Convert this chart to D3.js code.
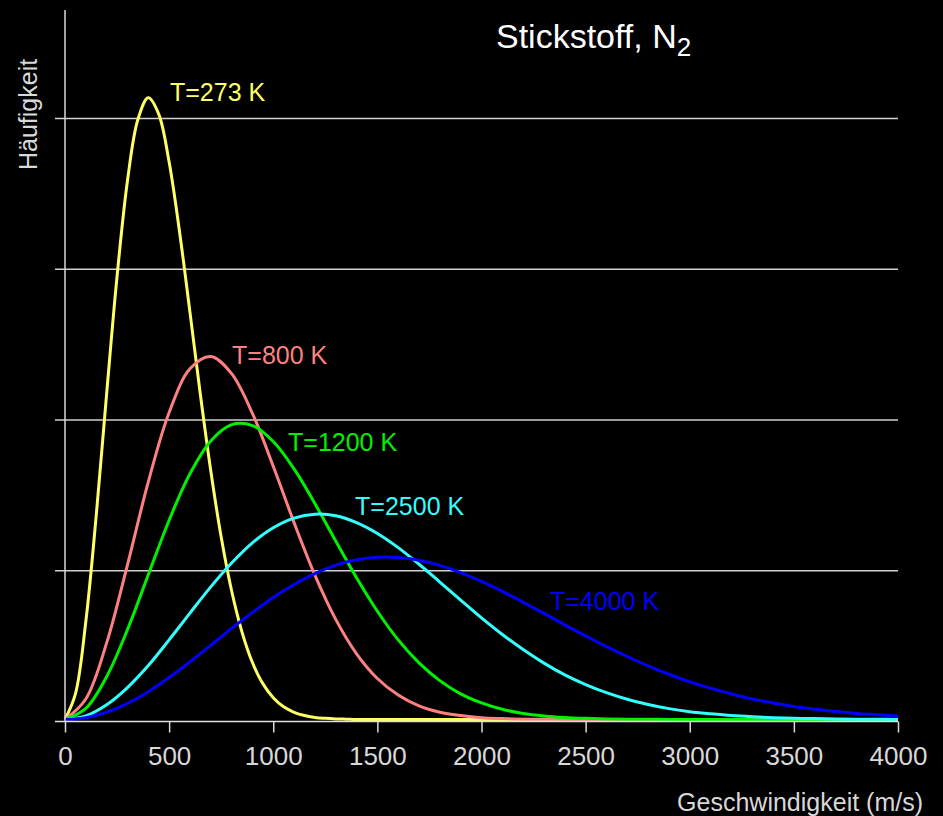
<!DOCTYPE html>
<html>
<head>
<meta charset="utf-8">
<script src="https://cdn.jsdelivr.net/npm/d3@7"></script>
<style>
  html, body { margin: 0; padding: 0; background: #000; }
  svg { display: block; }
</style>
</head>
<body>
<div id="chart"></div>
<script>

var speeds273 = [0, 50, 100, 150, 200, 250, 300, 350, 400, 450, 500, 550, 600, 650, 700, 750,
                 800, 850, 900, 950, 1000, 1050, 1100, 1150, 1200, 1250, 1300, 1350, 1400, 1450, 1500, 4000];
var speeds = [0, 100, 200, 300, 400, 500, 600, 700, 800, 900, 1000, 1100, 1200, 1300, 1400, 1500,
              1600, 1700, 1800, 1900, 2000, 2100, 2200, 2300, 2400, 2500, 2600, 2700, 2800, 2900, 3000,
              3100, 3200, 3300, 3400, 3500, 3600, 3700, 3800, 3900, 4000];

// Frequency values (relative, gridline every 0.5)
var values273 = [0, 0.085, 0.325, 0.677, 1.081, 1.470, 1.787, 1.990, 2.062, 2.008, 1.849, 1.618, 1.351, 1.078, 0.825, 0.605,
                 0.427, 0.290, 0.189, 0.119, 0.072, 0.042, 0.024, 0.013, 0.007, 0.004, 0.002, 0.001, 0, 0, 0, 0];
var values800 = [0, 0.068, 0.254, 0.513, 0.788, 1.018, 1.163, 1.204, 1.147, 1.015, 0.840, 0.653, 0.479, 0.332, 0.218, 0.136,
                 0.081, 0.045, 0.024, 0.013, 0.006, 0.003, 0.001, 0.001, 0, 0, 0, 0, 0, 0, 0,
                 0, 0, 0, 0, 0, 0, 0, 0, 0, 0];
var values1200 = [0, 0.037, 0.142, 0.298, 0.480, 0.661, 0.815, 0.924, 0.978, 0.975, 0.922, 0.831, 0.716, 0.592, 0.470, 0.359,
                  0.264, 0.188, 0.129, 0.085, 0.055, 0.034, 0.020, 0.012, 0.007, 0.004, 0.002, 0.001, 0.001, 0, 0,
                  0, 0, 0, 0, 0, 0, 0, 0, 0, 0];
var values2500 = [0, 0.012, 0.049, 0.106, 0.179, 0.264, 0.353, 0.440, 0.519, 0.586, 0.636, 0.668, 0.681, 0.676, 0.653, 0.617,
                  0.570, 0.515, 0.456, 0.396, 0.337, 0.282, 0.232, 0.187, 0.148, 0.116, 0.089, 0.067, 0.050, 0.036, 0.026,
                  0.019, 0.013, 0.009, 0.006, 0.004, 0.003, 0.002, 0.001, 0.001, 0];
var values4000 = [0, 0.006, 0.024, 0.053, 0.092, 0.139, 0.191, 0.246, 0.302, 0.355, 0.405, 0.448, 0.484, 0.512, 0.530, 0.538,
                  0.537, 0.528, 0.511, 0.487, 0.458, 0.425, 0.389, 0.352, 0.314, 0.277, 0.242, 0.209, 0.178, 0.150, 0.125,
                  0.104, 0.085, 0.068, 0.055, 0.043, 0.034, 0.027, 0.020, 0.016, 0.012];

var seriesNames = ["T=273 K", "T=800 K", "T=1200 K", "T=2500 K", "T=4000 K"];
var seriesColors = ["#ffff66", "#ff8080", "#00f000", "#33ffff", "#0000ff"];

// Where each label sits, in chart units (speed, value of the text baseline)
var labelSpeed = [504, 802, 1071, 1393, 2329];
var labelValue = [2.056, 1.185, 0.897, 0.682, 0.368];

var xTicks = [0, 500, 1000, 1500, 2000, 2500, 3000, 3500, 4000];
var gridValues = [0.5, 1, 1.5, 2];

var width = 943, height = 816;

var svg = d3.select("#chart").append("svg")
    .attr("width", width)
    .attr("height", height)
    .style("background", "#000")
    .attr("font-family", "Liberation Sans, Arial, sans-serif");

var x = d3.scaleLinear().domain([0, 4000]).range([65, 898]);
var y = d3.scaleLinear().domain([0, 2]).range([721, 118]);

// Horizontal grid lines
svg.selectAll(".grid")
    .data(gridValues)
    .enter()
    .append("line")
    .attr("x1", 55)
    .attr("x2", x(4000))
    .attr("y1", function(d) { return y(d) + 0.5; })
    .attr("y2", function(d) { return y(d) + 0.5; })
    .attr("stroke", "#d0d0d0")
    .attr("stroke-width", 1.5);

// Build the list of series from the arrays
var series = [
    { speeds: speeds273, values: values273 },
    { speeds: speeds, values: values800 },
    { speeds: speeds, values: values1200 },
    { speeds: speeds, values: values2500 },
    { speeds: speeds, values: values4000 }
].map(function(s, i) {
    return {
        name: seriesNames[i],
        color: seriesColors[i],
        points: s.speeds.map(function(v, j) { return [v, s.values[j]]; })
    };
});

var line = d3.line()
    .x(function(d) { return x(d[0]); })
    .y(function(d) { return Math.min(y(d[1]), y(0)) - 1.5; })
    .curve(d3.curveCatmullRom.alpha(0.5));

svg.selectAll(".curve")
    .data(series)
    .enter()
    .append("path")
    .attr("d", function(d) { return line(d.points); })
    .attr("fill", "none")
    .attr("stroke", function(d) { return d.color; })
    .attr("stroke-width", 3);

// Axes: y line and x axis with ticks
svg.append("line")
    .attr("x1", x(0)).attr("x2", x(0))
    .attr("y1", 10).attr("y2", y(0))
    .attr("stroke", "#d8d8d8")
    .attr("stroke-width", 1.5);

var xAxis = svg.append("g")
    .attr("transform", "translate(0," + (y(0) + 0.5) + ")")
    .call(d3.axisBottom(x).tickValues(xTicks).tickFormat(d3.format("d"))
        .tickSize(11).tickSizeOuter(0).tickPadding(14));

xAxis.select(".domain").remove();
xAxis.append("line")
    .attr("x1", 55).attr("x2", x(4000))
    .attr("stroke", "#e0e0e0")
    .attr("stroke-width", 1.5);
xAxis.selectAll(".tick line")
    .attr("stroke", "#d8d8d8")
    .attr("stroke-width", 1.5);
xAxis.selectAll(".tick text")
    .attr("fill", "#d8d8d8")
    .attr("font-size", 26)
    .attr("font-family", "Liberation Sans, Arial, sans-serif");

// Curve labels
svg.selectAll(".label")
    .data(series)
    .enter()
    .append("text")
    .attr("x", function(d, i) { return x(labelSpeed[i]); })
    .attr("y", function(d, i) { return y(labelValue[i]); })
    .attr("fill", function(d) { return d.color; })
    .attr("font-size", 25)
    .text(function(d) { return d.name; });

// Title with subscript
var title = svg.append("text")
    .attr("x", 496)
    .attr("y", 48)
    .attr("fill", "#fff")
    .attr("font-size", 34)
    .text("Stickstoff, N");
title.append("tspan")
    .attr("dy", 8)
    .attr("font-size", 26)
    .text("2");

// Axis titles
svg.append("text")
    .attr("x", 923)
    .attr("y", 811)
    .attr("text-anchor", "end")
    .attr("fill", "#d8d8d8")
    .attr("font-size", 25)
    .text("Geschwindigkeit (m/s)");

svg.append("text")
    .attr("transform", "translate(37,170) rotate(-90)")
    .attr("fill", "#d8d8d8")
    .attr("font-size", 25)
    .text("Häufigkeit");

</script>
</body>
</html>
